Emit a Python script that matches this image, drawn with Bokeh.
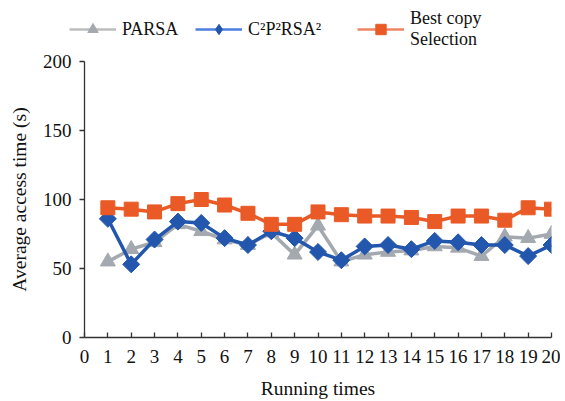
import numpy as np
from bokeh.plotting import figure
from bokeh.layouts import column
from bokeh.models import Legend, LegendItem, FixedTicker, Range1d
from bokeh.embed import file_html
from bokeh.resources import INLINE

runs = list(range(1, 21))
parsa = [55, 64, 69, 82, 77, 71, 67, 76, 60, 81, 55, 60, 62, 63, 66, 65, 59, 73, 72, 75]
c2p2rsa2 = [86, 53, 71, 84, 83, 72, 67, 77, 72, 62, 56, 66, 67, 64, 70, 69, 67, 67, 59, 67]
best_copy = [94, 93, 91, 97, 100, 96, 90, 82, 82, 91, 89, 88, 88, 87, 84, 88, 88, 85, 94, 93]
x_ticks = list(range(0, 21))
y_ticks = [0, 50, 100, 150, 200]

labels = ["PARSA", "C\u00b2P\u00b2RSA\u00b2", "Best copy\nSelection"]

FONT = "Liberation Serif"
GRAY = "#A3A9AF"
BLUE = "#2257AD"
ORANGE = "#EA5A26"
W = 560

# ---- main chart ----
p = figure(frame_width=467, frame_height=276, min_border_left=84, min_border_top=11,
           min_border_bottom=62, min_border_right=W - 84 - 467,
           x_range=(0, 20), y_range=(0, 200),
           output_backend="svg", toolbar_location=None)
p.outline_line_color = None
p.xgrid.visible = False
p.ygrid.visible = False

def draw_series(fig, ys, color, marker, size, angle=0.0, lw=3.5, lcolor=None):
    ln = fig.line(runs, ys, line_color=lcolor or color, line_width=lw)
    mk = fig.scatter(runs, ys, marker=marker, size=size, angle=angle,
                     fill_color=color, line_color=color)
    return ln, mk

draw_series(p, parsa, GRAY, "triangle", 15)
draw_series(p, c2p2rsa2, BLUE, "square", 12, np.pi / 4)
draw_series(p, best_copy, ORANGE, "square", 14)

for ax in (p.xaxis[0], p.yaxis[0]):
    ax.axis_line_color = "#333333"
    ax.axis_line_width = 1.3
    ax.major_tick_line_color = "#333333"
    ax.major_tick_line_width = 1.3
    ax.minor_tick_line_color = None
    ax.major_label_text_font = FONT
    ax.major_label_text_font_size = "19px"
    ax.major_label_text_color = "#111111"
    ax.axis_label_text_font = FONT
    ax.axis_label_text_font_size = "19.5px"
    ax.axis_label_text_font_style = "normal"
    ax.axis_label_text_color = "#111111"

p.xaxis.ticker = FixedTicker(ticks=x_ticks)
p.xaxis.major_tick_in = 5
p.xaxis.major_tick_out = 0
p.xaxis.major_label_standoff = 12
p.xaxis.axis_label = "Running times"
p.xaxis.axis_label_standoff = 12

p.yaxis.ticker = FixedTicker(ticks=y_ticks)
p.yaxis.major_tick_in = 0
p.yaxis.major_tick_out = 5
p.yaxis.major_label_standoff = 8
p.yaxis.axis_label = "Average access time (s)"
p.yaxis.axis_label_standoff = 10

# ---- legend strip (series drawn off-view; only their legend glyphs show) ----
LH = 50
lg = figure(frame_width=W, frame_height=LH, min_border=0,
            x_range=Range1d(-100, -90), y_range=Range1d(-100, -90),
            x_axis_location=None, y_axis_location=None,
            output_backend="svg", toolbar_location=None)
lg.outline_line_color = None
lg.xgrid.visible = False
lg.ygrid.visible = False

g = draw_series(lg, parsa, GRAY, "triangle", 13, lw=2.5, lcolor="#BDBDBD")
b = draw_series(lg, c2p2rsa2, BLUE, "diamond", 13, lw=2.5, lcolor="#4A7FE0")
o = draw_series(lg, best_copy, ORANGE, "square", 13, lw=2.5, lcolor="#EE8462")

center_from_bottom = LH - 29
GH = 26

def add_item(label, rends, x, h):
    leg = Legend(items=[LegendItem(label=label, renderers=list(rends))],
                 location=(x, center_from_bottom - h / 2), orientation="horizontal",
                 glyph_width=47, glyph_height=GH, label_standoff=6,
                 label_text_font=FONT, label_text_font_size="18px",
                 label_text_color="#111111", label_height=20,
                 padding=0, margin=0, spacing=0,
                 border_line_alpha=0, background_fill_alpha=0)
    lg.add_layout(leg, "center")

add_item(labels[0], g, 69, GH)
add_item(labels[1], b, 195, GH)
add_item(labels[2], o, 357, 42)

layout = column(lg, p, spacing=0)
open("out.html", "w").write(file_html(layout, INLINE))
